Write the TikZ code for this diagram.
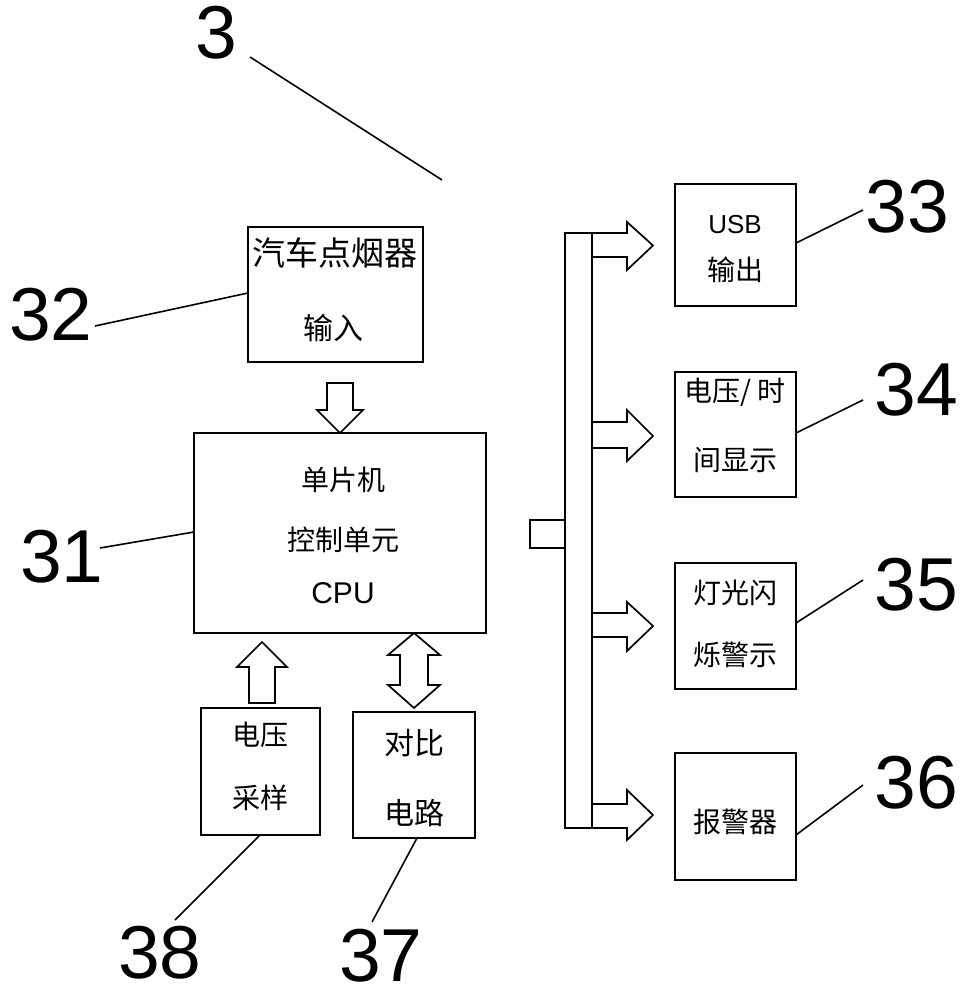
\documentclass[tikz,border=0pt]{standalone}
\usepackage{fontspec}
\setmainfont{Liberation Sans}
\newfontfamily\cjk{Noto Sans CJK SC}
\begin{document}
\begin{tikzpicture}[x=1pt,y=-1pt,
  box/.style={draw,line width=1.9pt,inner sep=0pt},
  lead/.style={line width=1.6pt},
  blk/.style={line width=1.7pt,line join=miter},
  num/.style={font=\fontsize{75}{75}\selectfont,inner sep=0pt},
  zh/.style={font=\cjk\fontsize{28}{28}\selectfont,inner sep=0pt},
  lat/.style={font=\fontsize{30}{30}\selectfont,inner sep=0pt}]
\useasboundingbox (0,0) rectangle (967,1000);
% boxes
\node[box,minimum width=175pt,minimum height=135pt] (b32) at (335.5,294.5) {};
\node[box,minimum width=292pt,minimum height=200pt] (b31) at (340,533) {};
\node[box,minimum width=119pt,minimum height=127pt] (b38) at (260.5,771.5) {};
\node[box,minimum width=122pt,minimum height=126pt] (b37) at (414,775) {};
\node[box,minimum width=121pt,minimum height=122pt] (b33) at (735.5,245) {};
\node[box,minimum width=121pt,minimum height=125pt] (b34) at (735.5,434.5) {};
\node[box,minimum width=121pt,minimum height=126pt] (b35) at (735.5,626) {};
\node[box,minimum width=121pt,minimum height=127pt] (b36) at (735.5,816.5) {};
% texts
\node[zh,font=\cjk\fontsize{33}{33}\selectfont] (t32a) at (335,253) {汽车点烟器};
\node[zh,font=\cjk\fontsize{30}{30}\selectfont] (t32b) at (333,328) {输入};
\node[zh] (t31a) at (343,480) {单片机};
\node[zh] (t31b) at (343,540) {控制单元};
\node[lat] (t31c) at (343,593) {CPU};
\node[zh] (t38a) at (260,735) {电压};
\node[zh] (t38b) at (260,798) {采样};
\node[zh,font=\cjk\fontsize{30}{30}\selectfont] (t37a) at (414,743) {对比};
\node[zh,font=\cjk\fontsize{30}{30}\selectfont] (t37b) at (414,813) {电路};
\node[lat,font=\fontsize{26}{26}\selectfont] (t33a) at (735,225) {USB};
\node[zh] (t33b) at (735,270) {输出};
\node[zh] (t34a) at (735,392) {电压/ 时};
\node[zh] (t34b) at (735,460) {间显示};
\node[zh] (t35a) at (735,593) {灯光闪};
\node[zh] (t35b) at (735,655) {烁警示};
\node[zh] (t36a) at (735,822) {报警器};
% labels
\node[num] (l3) at (216,33) {3};
\node[num] (l32) at (51,314.5) {32};
\node[num] (l31) at (62,557) {31};
\node[num] (l38) at (160,953) {38};
\node[num] (l37) at (381,956) {37};
\node[num] (l33) at (907,207) {33};
\node[num] (l34) at (916,390) {34};
\node[num] (l35) at (916,585) {35};
\node[num] (l36) at (916,783) {36};
% leader ends
\coordinate (c3a) at (250,57);   \coordinate (c3b) at (442,180);
\coordinate (c32a) at (95,326);  \coordinate (c32b) at (248,293);
\coordinate (c31a) at (100,548); \coordinate (c31b) at (194,532);
\coordinate (c38a) at (260,835); \coordinate (c38b) at (175,920);
\coordinate (c37a) at (417,838); \coordinate (c37b) at (372,922);
\coordinate (c33a) at (796,243); \coordinate (c33b) at (863,210);
\coordinate (c34a) at (796,433); \coordinate (c34b) at (863,400);
\coordinate (c35a) at (796,623); \coordinate (c35b) at (863,580);
\coordinate (c36a) at (796,835); \coordinate (c36b) at (863,785);
\draw[lead] (c3a) -- (c3b);
\draw[lead] (c32a) -- (c32b);
\draw[lead] (c31a) -- (c31b);
\draw[lead] (c38a) -- (c38b);
\draw[lead] (c37a) -- (c37b);
\draw[lead] (c33a) -- (c33b);
\draw[lead] (c34a) -- (c34b);
\draw[lead] (c35a) -- (c35b);
\draw[lead] (c36a) -- (c36b);
% hollow arrows
\draw[blk] (327,383) -- (353,383) -- (353,410) -- (363,410) -- (340,433) -- (317,410) -- (327,410) -- cycle;
\draw[blk] (249,703) -- (275,703) -- (275,667) -- (287,667) -- (262,642) -- (237,667) -- (249,667) -- cycle;
\draw[blk] (414,633) -- (440,655) -- (428,655) -- (428,685) -- (440,685) -- (414,708) -- (388,685) -- (400,685) -- (400,655) -- (388,655) -- cycle;
% bus
\draw[blk] (565,233) rectangle (592,828);
\draw[blk] (592,233) -- (627,233) -- (627,222) -- (653,245.5) -- (627,270) -- (627,257) -- (592,257);
\draw[blk] (592,422) -- (627,422) -- (627,410) -- (653,436) -- (627,461) -- (627,448) -- (592,448);
\draw[blk] (592,613) -- (627,613) -- (627,602) -- (653,626) -- (627,651) -- (627,637) -- (592,637);
\draw[blk] (592,804) -- (627,804) -- (627,790) -- (653,815) -- (627,840) -- (627,828) -- (592,828);
\draw[blk] (565,520) -- (530,520) -- (530,548) -- (565,548);
\end{tikzpicture}
\end{document}
